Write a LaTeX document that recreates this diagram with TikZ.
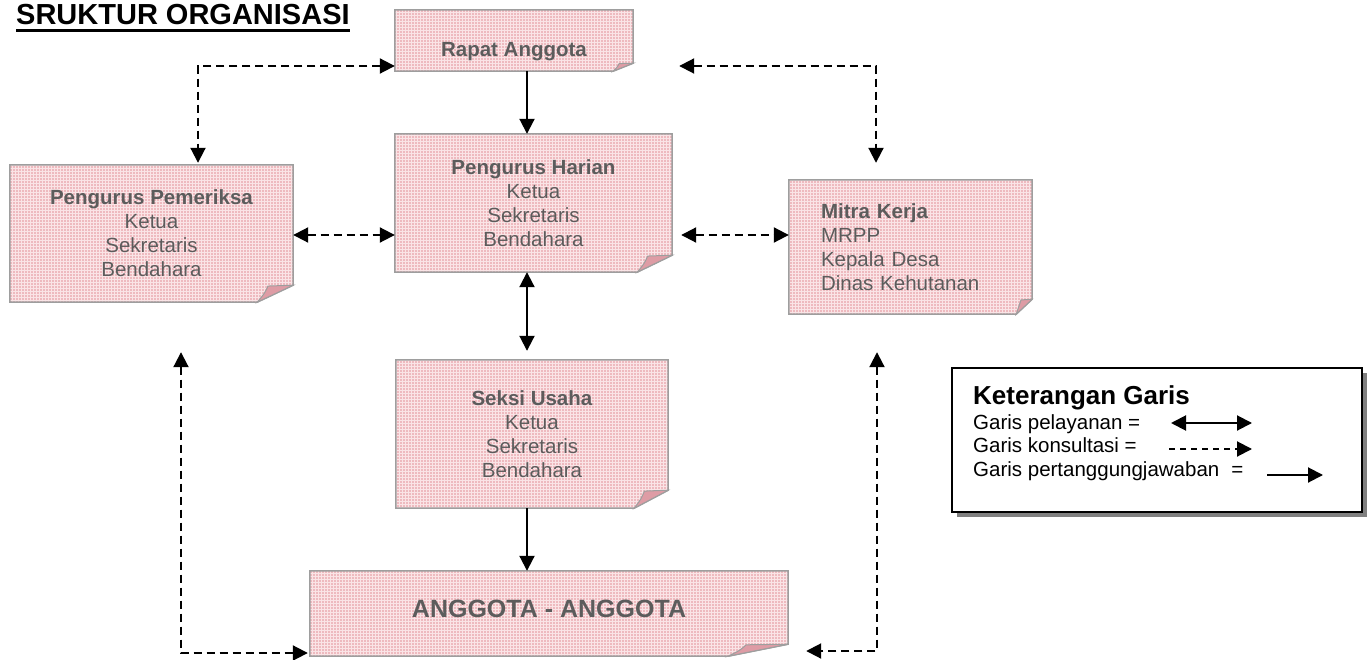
\documentclass[tikz,border=0pt]{standalone}
\usepackage{fontspec}
\setmainfont{Liberation Sans}
\usetikzlibrary{arrows.meta,patterns,backgrounds,calc}
\definecolor{boxpink}{RGB}{238,186,191}
\definecolor{gridwhite}{RGB}{250,228,230}
\definecolor{flappink}{RGB}{222,156,165}
\definecolor{boxedge}{RGB}{158,158,158}
\definecolor{txtgray}{RGB}{92,92,92}
\definecolor{shadowgray}{RGB}{128,128,128}
\tikzset{
  box/.style={rectangle, inner sep=0pt, text=txtgray, font=\fontsize{20.5}{24}\selectfont},
  tip/.tip={Triangle[length=15pt,width=15pt]},
  oneway/.style={line width=2pt, -tip},
  twoway/.style={line width=2pt, tip-tip},
  dashtwo/.style={twoway, dash pattern=on 8pt off 5pt},
  legtxt/.style={anchor=base west, inner sep=0pt, text=black, font=\fontsize{20.5}{24}\selectfont},
}
\newcommand\foldedbox[3]{%
  \path[fill=boxpink] (#1.north west) -- (#1.north east) -- ([yshift=#3pt]#1.south east) -- ([xshift=-#2pt]#1.south east) -- (#1.south west) -- cycle;
  \path[pattern=grid, pattern color=gridwhite] (#1.north west) -- (#1.north east) -- ([yshift=#3pt]#1.south east) -- ([xshift=-#2pt]#1.south east) -- (#1.south west) -- cycle;
  \draw[boxedge, line width=1.5pt] (#1.north west) -- (#1.north east) -- ([yshift=#3pt]#1.south east) -- ([xshift=-#2pt]#1.south east) -- (#1.south west) -- cycle;
  \filldraw[fill=flappink, draw=boxedge, line width=1pt] ([xshift=-#2pt]#1.south east) .. controls ([xshift={-0.8*#2pt},yshift={0.5*#3pt}]#1.south east) .. ([xshift={-0.7*#2pt},yshift={0.95*#3pt}]#1.south east) -- ([yshift=#3pt]#1.south east) -- cycle;
}
\begin{document}
\begin{tikzpicture}[x=1pt,y=-1pt]
\useasboundingbox (0,0) rectangle (1370,660);

% title
\node[anchor=base west, inner sep=0pt, font=\bfseries\fontsize{29}{34}\selectfont] (title) at (16,25) {SRUKTUR ORGANISASI};
\draw[line width=2.2pt] ([yshift=-5.5pt]title.base west) -- ([yshift=-5.5pt]title.base east);

% boxes
\node[box, minimum width=238pt, minimum height=61pt, text height=37pt, text depth=4pt] (rapat) at (514,40.5) {\bfseries Rapat Anggota};
\node[box, minimum width=277pt, minimum height=138pt, align=center] (harian) at (533.5,203) {\textbf{Pengurus Harian}\\Ketua\\Sekretaris\\Bendahara};
\node[box, minimum width=283pt, minimum height=137pt, align=center] (pemeriksa) at (151.5,233.5) {\textbf{Pengurus Pemeriksa}\\Ketua\\Sekretaris\\Bendahara};
\node[box, minimum width=243pt, minimum height=134pt, inner xsep=32pt, text width=179pt, align=left] (mitra) at (910.5,247) {\textbf{Mitra Kerja}\\MRPP\\Kepala Desa\\Dinas Kehutanan};
\node[box, minimum width=272pt, minimum height=148pt, align=center] (seksi) at (532,434) {\textbf{Seksi Usaha}\\Ketua\\Sekretaris\\Bendahara};
\node[box, minimum width=478pt, minimum height=85pt, text height=18pt, text depth=11pt] (anggota) at (549,613.5) {\fontsize{25}{30}\selectfont\bfseries ANGGOTA - ANGGOTA};

\begin{pgfonlayer}{background}
  \fill[white] (0,0) rectangle (1370,660);
  \foldedbox{rapat}{20}{8}
  \foldedbox{harian}{35}{17}
  \foldedbox{pemeriksa}{36}{17}
  \foldedbox{mitra}{16}{15}
  \foldedbox{seksi}{34}{18}
  \foldedbox{anggota}{60}{12}
\end{pgfonlayer}

% helper coordinates
\coordinate (axis) at (527,0);
\coordinate (cl) at (198,66);
\coordinate (cr) at (876,66);
\coordinate (mid) at (0,235);
\coordinate (bl) at (181,653);
\coordinate (br) at (877,651);

% solid connectors
\draw[oneway] (rapat.south -| axis) -- (harian.north -| axis);
\draw[twoway, shorten >=9pt] (harian.south -| axis) -- (seksi.north -| axis);
\draw[oneway] (seksi.south -| axis) -- (anggota.north -| axis);

% dashed connectors
\draw[dashtwo] (pemeriksa.east |- mid) -- (harian.west |- mid);
\draw[dashtwo, shorten <=9pt] (harian.east |- mid) -- (mitra.west |- mid);
\draw[dashtwo, shorten >=2pt] (rapat.west |- cl) -| (pemeriksa.north -| cl);
\draw[dashtwo, shorten <=46pt, shorten >=17pt] (rapat.east |- cr) -| (mitra.north -| cr);
\draw[dashtwo, shorten <=50pt, shorten >=2pt] (pemeriksa.south -| bl) |- (anggota.west |- bl);
\draw[dashtwo, shorten <=38pt, shorten >=18pt] (mitra.south -| br) |- (anggota.east |- br);

% legend
\fill[shadowgray] (957,373) rectangle (1367,517);
\node[draw, line width=2pt, fill=white, minimum width=410pt, minimum height=144pt, inner sep=0pt] (legend) at (1157,440) {};
\node[legtxt, font=\bfseries\fontsize{26}{30}\selectfont] (lkey) at (973,404) {Keterangan Garis};
\node[legtxt] (l1) at (973,429) {Garis pelayanan =};
\node[legtxt] (l2) at (973,452) {Garis konsultasi =};
\node[legtxt] (l3) at (973,476) {Garis pertanggungjawaban\hspace{12pt}=};
\coordinate (la1) at (1171,423);
\coordinate (la2) at (1252,423);
\coordinate (lb1) at (1169,449);
\coordinate (lb2) at (1252,449);
\coordinate (lc1) at (1267,475);
\coordinate (lc2) at (1323,475);
\draw[twoway] (la1) -- (la2);
\draw[oneway, dash pattern=on 6pt off 5pt] (lb1) -- (lb2);
\draw[oneway] (lc1) -- (lc2);
\end{tikzpicture}
\end{document}
